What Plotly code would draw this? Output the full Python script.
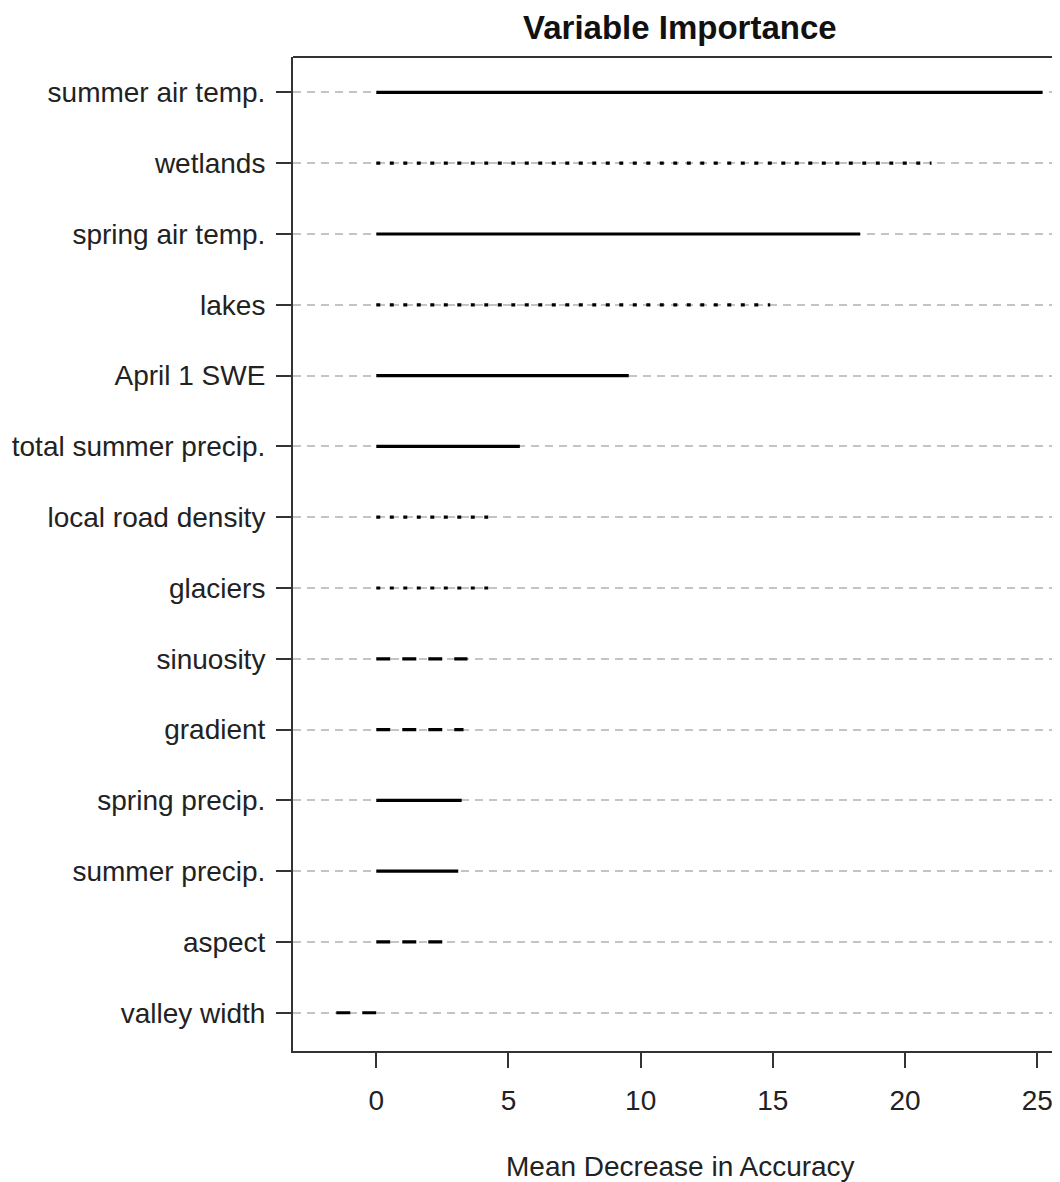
import plotly.graph_objects as go

# Data (top to bottom as in the chart)
variables = [
    "summer air temp.", "wetlands", "spring air temp.", "lakes", "April 1 SWE",
    "total summer precip.", "local road density", "glaciers", "sinuosity",
    "gradient", "spring precip.", "summer precip.", "aspect", "valley width",
]
importance = [25.2, 21.0, 18.3, 14.9, 9.55, 5.43, 4.45, 4.45, 3.45, 3.3, 3.23, 3.1, 2.7, -1.58]
styles = ["solid", "dotted", "solid", "dotted", "solid", "solid", "dotted", "dotted",
          "dashed", "dashed", "solid", "solid", "dashed", "dashed"]
x_ticks = [0, 5, 10, 15, 20, 25]

dash_map = {"solid": "solid", "dotted": "4px,9.5px", "dashed": "14px,12px"}

fig = go.Figure()
for name, val, st in zip(variables, importance, styles):
    fig.add_trace(go.Scatter(
        x=[0, val], y=[name, name], mode="lines",
        line=dict(color="black", width=3.2, dash=dash_map[st]),
        showlegend=False, hoverinfo="skip",
    ))

font_family = "Liberation Sans, Arial, sans-serif"
fig.update_layout(
    width=1052, height=1174,
    margin=dict(l=285, r=0, t=49, b=131),
    plot_bgcolor="white", paper_bgcolor="white",
    font=dict(family=font_family, size=28, color="#222"),
    xaxis=dict(
        range=[-3.15, 25.86], tickvals=x_ticks, ticks="outside", ticklen=15,
        tickwidth=2, tickcolor="#333", showline=True, linecolor="#333", linewidth=2,
        showgrid=False, zeroline=False, ticklabelstandoff=8,
        tickfont=dict(size=28, color="#222"),
    ),
    yaxis=dict(
        type="category", categoryorder="array", categoryarray=variables[::-1],
        range=[-0.54, 13.5], ticks="outside", ticklen=15, tickwidth=2,
        tickcolor="#333", showline=True, linecolor="#333", linewidth=2,
        showgrid=True, gridcolor="#c4c4c4", gridwidth=1.5, griddash="8px,6px",
        zeroline=False, ticklabelstandoff=5, tickfont=dict(size=28, color="#222"),
    ),
    shapes=[dict(type="line", xref="paper", yref="paper", x0=0, x1=1, y0=1, y1=1,
                 line=dict(color="#333", width=2))],
    annotations=[
        dict(text="<b>Variable Importance</b>", xref="paper", yref="paper",
             x=0.5046, y=1.03, xanchor="center", yanchor="middle", showarrow=False,
             font=dict(size=33, color="#111", family=font_family)),
        dict(text="Mean Decrease in Accuracy", xref="paper", yref="paper",
             x=0.5046, y=-0.1157, xanchor="center", yanchor="middle", showarrow=False,
             font=dict(size=28, color="#222", family=font_family)),
    ],
)

fig.write_html("out.html")
